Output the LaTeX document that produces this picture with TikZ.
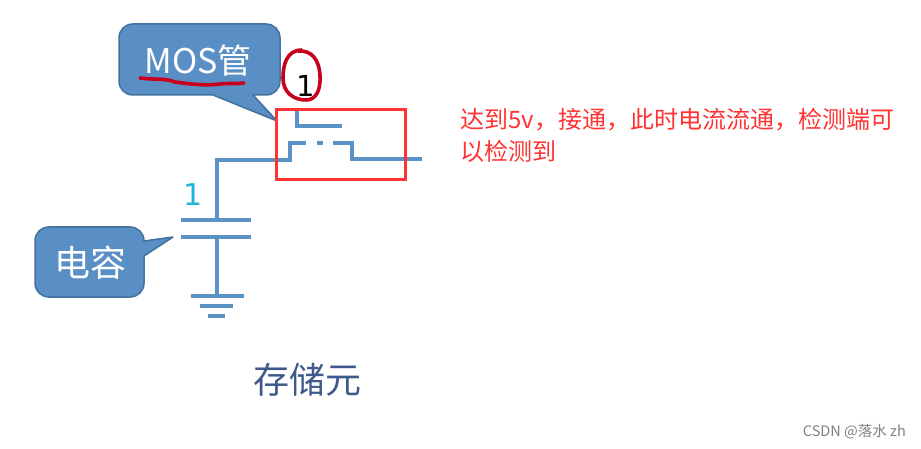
\documentclass[tikz,border=0pt]{standalone}
\usepackage{fontspec}
\setmainfont{Open Sans}
\newfontfamily\cjk{Noto Sans CJK SC}
\newfontfamily\digitfont{DejaVu Sans}
\definecolor{wire}{HTML}{5B92C6}
\definecolor{fillb}{HTML}{5A8FC6}
\definecolor{edgeb}{HTML}{41719C}
\definecolor{redbox}{HTML}{FF3333}
\definecolor{inkred}{HTML}{C8001E}
\definecolor{cyanone}{HTML}{1FB4DC}
\definecolor{navy}{HTML}{3F5A8A}
\tikzset{
  callout/.style={draw=edgeb,fill=fillb,line width=1.5pt,line join=round},
  calltext/.style={text=white,inner sep=0pt,anchor=center},
  wireline/.style={draw=wire,line width=3.2pt,line join=miter},
  redtext/.style={text=redbox,inner sep=0pt,anchor=west,font=\cjk\fontsize{24}{24}\selectfont},
}
\begin{document}
\begin{tikzpicture}[x=1pt,y=-1pt]
\useasboundingbox (0,0) rectangle (921,449);
% callouts
\draw[callout] (133,24) -- (266,24) .. controls (274,24) and (280,30) .. (280,38) -- (280,81) .. controls (280,89) and (274,95) .. (266,95)
  -- (253,95) -- (277,121) -- (213,95) -- (133,95) .. controls (125,95) and (119,89) .. (119,81) -- (119,38) .. controls (119,30) and (125,24) .. (133,24) -- cycle;
\draw[callout] (49,227) -- (130,227) .. controls (138,227) and (144,233) .. (144,241) -- (173,237) -- (144,256) -- (144,283) .. controls (144,291) and (138,297) .. (130,297)
  -- (49,297) .. controls (41,297) and (35,291) .. (35,283) -- (35,241) .. controls (35,233) and (41,227) .. (49,227) -- cycle;
\node[calltext,font=\cjk\fontsize{34}{34}\selectfont] (mos) at (198,61) {MOS管};
\node[calltext,font=\cjk\fontsize{36}{36}\selectfont] (cap) at (90,263) {电容};
% ink
\draw[inkred,line width=3.6pt,line cap=round,line join=round] (140,78) .. controls (155,80) and (165,78) .. (175,82) .. controls (190,84) and (205,86) .. (220,84) .. controls (230,83) and (238,84) .. (244,83);
\draw[inkred,line width=3.6pt] (302,50) .. controls (286,50) and (283,66) .. (283,78) .. controls (283,92) and (293,100) .. (306,100) .. controls (316,100) and (321,90) .. (320,75) .. controls (319,60) and (312,50) .. (298,51);
\node[inner sep=0pt,font=\digitfont\fontsize{29}{29}\selectfont,text=black] (one) at (306,86) {1};
% circuit
\draw[wireline] (297,110) |- (342,126);
\draw[wireline] (217,220) |- (290,160) |- (306,143);
\draw[wireline] (317,143) -- (323,143);
\draw[wireline] (333,143) -| (352,159) -- (422,159);
\draw[wireline] (181,220) -- (251,220);
\draw[wireline] (181,237) -- (251,237);
\draw[wireline] (217,237) -- (217,296);
\draw[wireline] (191,296) -- (244,296);
\draw[wireline] (200,306) -- (233,306);
\draw[wireline] (208,316) -- (225,316);
\node[inner sep=0pt,text=cyanone,font=\digitfont\fontsize{30}{30}\selectfont] (cone) at (193,195) {1};
% red box
\draw[draw=redbox,line width=3pt] (276,110) rectangle (405,180);
% text
\node[redtext] (t1) at (460,120) {达到5v，接通，此时电流流通，检测端可};
\node[redtext] (t2) at (460,151) {以检测到};
\node[inner sep=0pt,text=navy,font=\cjk\fontsize{36}{36}\selectfont] (st) at (307,380) {存储元};
\node[inner sep=0pt,anchor=east,text=black!50,font=\cjk\fontsize{14.5}{14.5}\selectfont] (wm) at (906,432) {CSDN @落水 zh};
\end{tikzpicture}
\end{document}
